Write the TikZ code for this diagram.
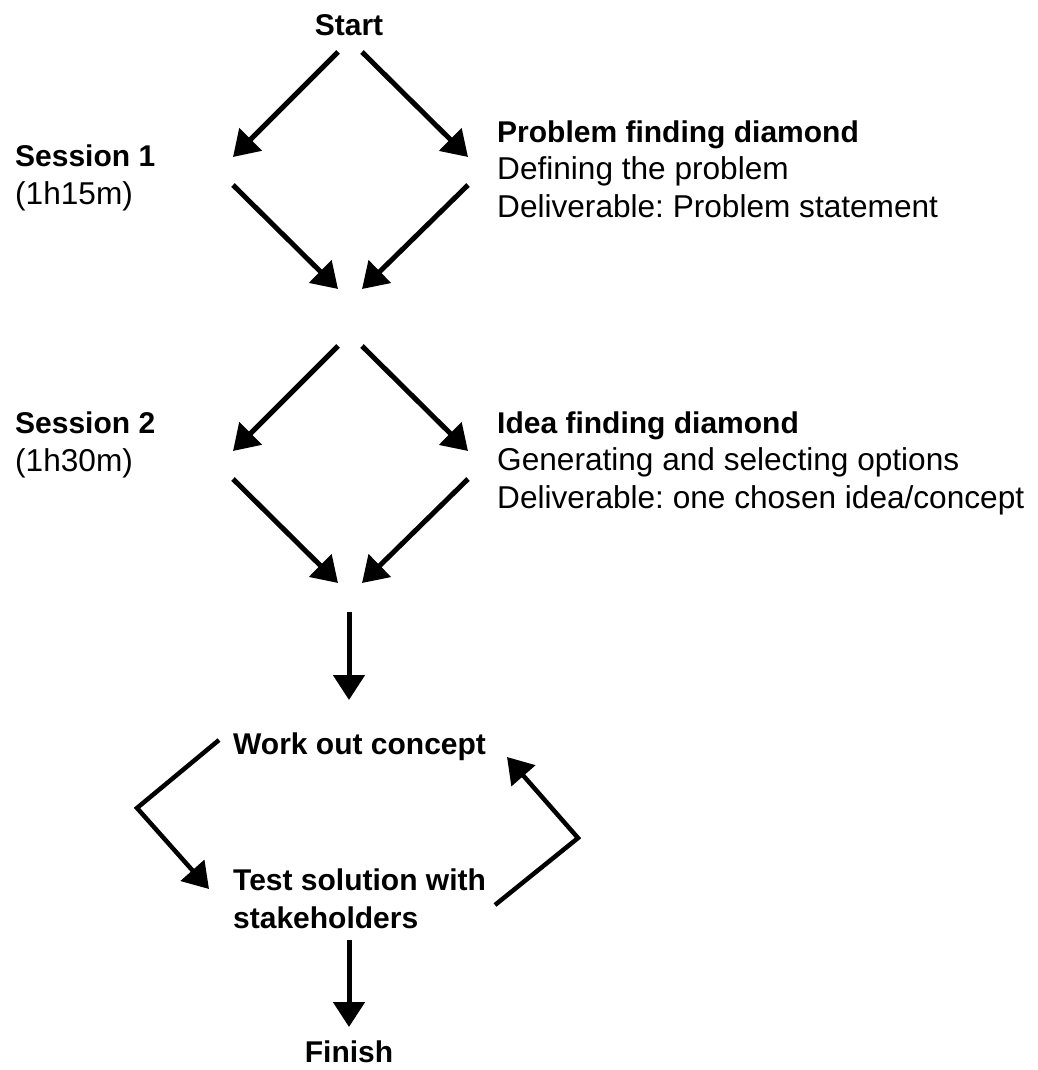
\documentclass[tikz,border=0pt]{standalone}
\usepackage{fontspec}
\setmainfont{Liberation Sans}
\usetikzlibrary{arrows.meta}
\frenchspacing
\begin{document}
\begin{tikzpicture}[x=1pt,y=-1pt,
  flow/.style={line width=5pt,-{Triangle[length=25pt,width=31pt]}},
  loopline/.style={line width=4.5pt,-{Triangle[length=25pt,width=31pt]}},
  lbl/.style={inner sep=0pt,align=left,font=\fontsize{31.6}{37.5}\selectfont},
  bold/.style={lbl,font=\fontsize{30}{37.5}\selectfont\bfseries}]
\useasboundingbox (0,0) rectangle (1037,1070);
\newcommand\hd[1]{{\fontsize{30}{37.5}\selectfont\bfseries #1}}

% labels
\node[bold,anchor=center] (start) at (349,25) {Start};
\node[lbl,anchor=west] (s1) at (15,178) {\hd{Session 1}\\(1h15m)};
\node[lbl,anchor=west] (pfd) at (497,169) {\hd{Problem finding diamond}\\Defining the problem\\Deliverable: Problem statement};
\node[lbl,anchor=west] (s2) at (15,445) {\hd{Session 2}\\(1h30m)};
\node[lbl,anchor=west] (ifd) at (497,463) {\hd{Idea finding diamond}\\Generating and selecting options\\Deliverable: one chosen idea/concept};
\node[bold,anchor=west] (work) at (233,747) {Work out concept};
\node[bold,anchor=west] (test) at (233,899) {Test solution with\\stakeholders};
\node[bold,anchor=center] (finish) at (349,1052) {Finish};

% points of the two diamonds
\coordinate (a1) at (338,52);  \coordinate (a2) at (362,52);
\coordinate (b1) at (233,157); \coordinate (b2) at (468,157);
\coordinate (c1) at (233,185); \coordinate (c2) at (468,185);
\coordinate (d1) at (338,289); \coordinate (d2) at (362,289);
\coordinate (e1) at (338,346); \coordinate (e2) at (362,346);
\coordinate (f1) at (233,451); \coordinate (f2) at (468,451);
\coordinate (g1) at (233,479); \coordinate (g2) at (468,479);
\coordinate (h1) at (338,583); \coordinate (h2) at (362,583);
\coordinate (v1) at (349,612); \coordinate (v2) at (349,700);
% points of the concept loop
\coordinate (l1) at (219,740); \coordinate (l2) at (137,808); \coordinate (l3) at (209,889);
\coordinate (r1) at (495,905); \coordinate (r2) at (578,838); \coordinate (r3) at (507,757);
\coordinate (w1) at (349,940); \coordinate (w2) at (349,1027);

\draw[flow] (a1) -- (b1);
\draw[flow] (a2) -- (b2);
\draw[flow] (c1) -- (d1);
\draw[flow] (c2) -- (d2);
\draw[flow] (e1) -- (f1);
\draw[flow] (e2) -- (f2);
\draw[flow] (g1) -- (h1);
\draw[flow] (g2) -- (h2);
\draw[flow] (v1) -- (v2);
\draw[loopline] (l1) -- (l2) -- (l3);
\draw[loopline] (r1) -- (r2) -- (r3);
\draw[flow] (w1) -- (w2);
\end{tikzpicture}
\end{document}
